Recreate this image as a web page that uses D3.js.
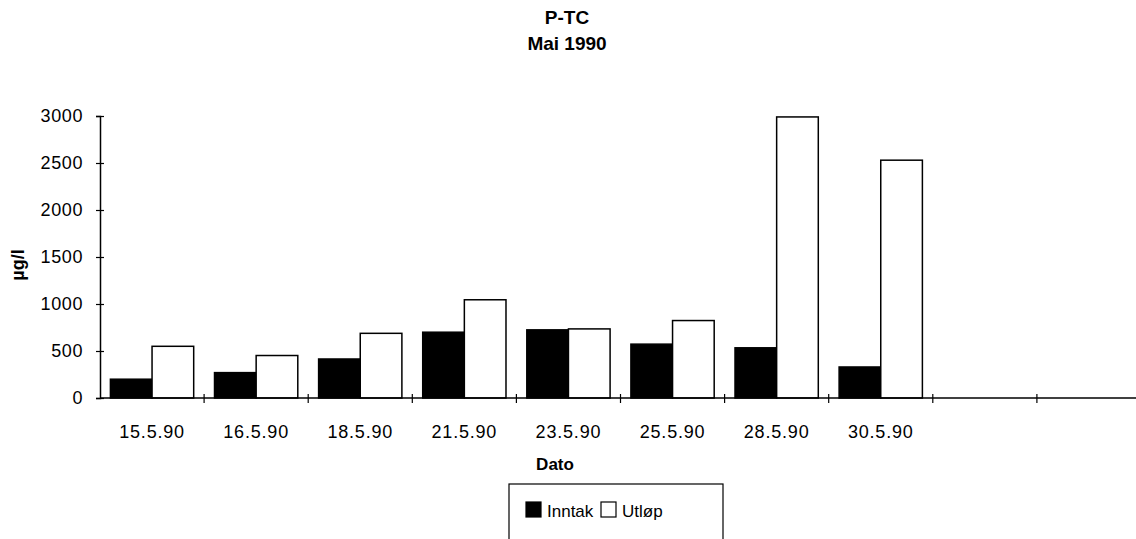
<!DOCTYPE html>
<html>
<head>
<meta charset="utf-8">
<script src="https://cdn.jsdelivr.net/npm/d3@7"></script>
<style>
  body { margin: 0; background: #fff; }
  svg { display: block; font-family: "Liberation Sans", Arial, sans-serif; }
</style>
</head>
<body>
<div id="chart"></div>
<script>
// Chart data
const categories = ["15.5.90", "16.5.90", "18.5.90", "21.5.90", "23.5.90", "25.5.90", "28.5.90", "30.5.90", "", ""];
const inntak = [200, 270, 415, 700, 725, 573, 534, 330];
const utlop = [550, 452, 688, 1045, 735, 824, 2990, 2530];
const seriesNames = ["Inntak", "Utløp"];
const seriesFill = ["#000", "#fff"];
const yTicks = [0, 500, 1000, 1500, 2000, 2500, 3000];

const width = 1136, height = 539;
const plotLeft = 100, plotRight = 1141, plotTop = 116, plotBottom = 398;

const svg = d3.select('#chart')
    .append('svg')
    .attr('width', width)
    .attr('height', height);

// Scales
const x0 = d3.scaleBand()
    .domain(d3.range(categories.length))
    .range([plotLeft, plotRight])
    .paddingInner(0.2)
    .paddingOuter(0.1);

const x1 = d3.scaleBand()
    .domain(d3.range(seriesNames.length))
    .range([0, x0.bandwidth()]);

const y = d3.scaleLinear()
    .domain([0, 3000])
    .range([plotBottom, plotTop]);

const step = x0.step();

// Bars
const groups = svg.selectAll('g.cat')
    .data(categories.slice(0, inntak.length).map((c, i) => ({ i, values: [inntak[i], utlop[i]] })))
    .enter().append('g')
    .attr('class', 'cat')
    .attr('transform', d => `translate(${x0(d.i)},0)`);

groups.selectAll('rect')
    .data(d => d.values.map((v, s) => ({ v, s })))
    .enter().append('rect')
    .attr('x', d => x1(d.s))
    .attr('y', d => y(d.v))
    .attr('width', x1.bandwidth())
    .attr('height', d => y(0) - y(d.v))
    .attr('fill', d => seriesFill[d.s])
    .attr('stroke', '#000')
    .attr('stroke-width', 1.5);

// Y axis
const yAxis = svg.append('g')
    .attr('transform', `translate(${plotLeft},0)`)
    .call(d3.axisLeft(y).tickValues(yTicks).tickFormat(d3.format('d')).tickSize(4).tickPadding(13));
yAxis.select('.domain').attr('stroke-width', 1.5);
yAxis.selectAll('.tick line').attr('x2', 4).attr('x1', -4).attr('stroke-width', 1.2);
yAxis.selectAll('.tick text').attr('font-size', 18).attr('fill', '#000')
    .style('font-family', '"Liberation Sans", Arial, sans-serif')
    .style('letter-spacing', '0.6px');

// X axis line with boundary ticks
const xAxis = svg.append('g');
xAxis.append('line')
    .attr('x1', plotLeft).attr('x2', width)
    .attr('y1', plotBottom).attr('y2', plotBottom)
    .attr('stroke', '#000').attr('stroke-width', 1.5);
xAxis.selectAll('line.tick')
    .data(d3.range(1, categories.length))
    .enter().append('line')
    .attr('class', 'tick')
    .attr('x1', d => x0(d) - x0.paddingOuter() * step)
    .attr('x2', d => x0(d) - x0.paddingOuter() * step)
    .attr('y1', plotBottom - 4).attr('y2', plotBottom + 5)
    .attr('stroke', '#000').attr('stroke-width', 1.2);
xAxis.selectAll('text')
    .data(categories.map((c, i) => ({ c, i })).filter(d => d.c))
    .enter().append('text')
    .attr('x', d => x0(d.i) + x0.bandwidth() / 2)
    .attr('y', 438)
    .attr('text-anchor', 'middle')
    .attr('font-size', 18)
    .style('letter-spacing', '0.8px')
    .text(d => d.c);

// Titles
svg.append('text')
    .attr('x', 567).attr('y', 24)
    .attr('text-anchor', 'middle')
    .attr('font-weight', 'bold').attr('font-size', 19)
    .text('P-TC');
svg.append('text')
    .attr('x', 567).attr('y', 50)
    .attr('text-anchor', 'middle')
    .attr('font-weight', 'bold').attr('font-size', 19)
    .text('Mai 1990');
svg.append('text')
    .attr('x', 555).attr('y', 470)
    .attr('text-anchor', 'middle')
    .attr('font-weight', 'bold').attr('font-size', 17)
    .text('Dato');
svg.append('text')
    .attr('transform', 'translate(24,265) rotate(-90)')
    .attr('text-anchor', 'middle')
    .attr('font-weight', 'bold').attr('font-size', 18)
    .text('µg/l');

// Legend
const legend = svg.append('g');
legend.append('rect')
    .attr('x', 509).attr('y', 484)
    .attr('width', 214).attr('height', 80)
    .attr('fill', 'none').attr('stroke', '#000').attr('stroke-width', 1.2);
const legendX = [526, 601];
const item = legend.selectAll('g.item')
    .data(seriesNames)
    .enter().append('g')
    .attr('class', 'item')
    .attr('transform', (d, i) => `translate(${legendX[i]},502)`);
item.append('rect')
    .attr('width', 15).attr('height', 15)
    .attr('fill', (d, i) => seriesFill[i])
    .attr('stroke', '#000').attr('stroke-width', 1.2);
item.append('text')
    .attr('x', 21).attr('y', 15)
    .attr('font-size', 17)
    .text(d => d);
</script>
</body>
</html>
